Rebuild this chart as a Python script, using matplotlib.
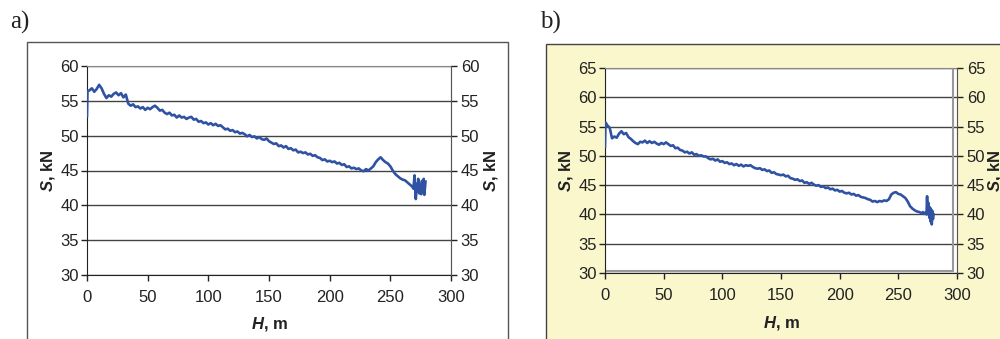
import numpy as np
import matplotlib
matplotlib.use("Agg")
import matplotlib.pyplot as plt
from matplotlib.patches import Rectangle

plt.rcParams['font.family'] = ['Liberation Sans', 'DejaVu Sans']
plt.rcParams['mathtext.fontset'] = 'custom'
plt.rcParams['mathtext.bfit'] = 'Liberation Sans:bold:italic'
plt.rcParams['mathtext.bf'] = 'Liberation Sans:bold'
plt.rcParams['mathtext.rm'] = 'Liberation Sans'

# ---- data ----
# panel a) : depth H [m] and rope force S [kN]
depth_a = [0, 0.4] + list(range(2, 268, 2)) + \
    [268, 269, 270, 270.5, 271, 272, 272.5, 273, 274, 275, 275.5, 276, 277, 277.5, 278, 279]
load_a = [52.8, 56.4,
          56.5, 56.8, 56.3, 56.7, 57.3, 56.8, 56.0, 55.4, 55.8, 55.6,
          56.0, 56.2, 55.8, 56.1, 55.5, 55.9, 54.6, 54.3, 54.5, 54.1,
          54.2, 53.9, 54.1, 53.7, 54.0, 53.8, 54.1, 54.3, 54.0, 53.6,
          53.7, 53.3, 53.1, 53.3, 52.9, 53.0, 52.6, 52.9, 52.6, 52.7,
          52.4, 52.6, 52.7, 52.3, 52.4, 52.0, 52.1, 51.8, 51.9, 51.6,
          51.8, 51.5, 51.7, 51.4, 51.5, 51.2, 50.9, 51.0, 50.7, 50.8,
          50.5, 50.6, 50.3, 50.4, 50.2, 49.9, 50.1, 49.8, 49.9, 49.6,
          49.8, 49.5, 49.4, 49.6, 49.2, 49.0, 48.8, 48.9, 48.5, 48.6,
          48.3, 48.5, 48.1, 48.2, 47.9, 48.0, 47.6, 47.7, 47.5, 47.6,
          47.3, 47.4, 47.1, 47.2, 46.9, 46.8, 46.5, 46.6, 46.3, 46.4,
          46.2, 46.3, 46.0, 46.1, 45.8, 45.9, 45.5, 45.6, 45.3, 45.4,
          45.2, 45.3, 45.0, 44.9, 45.2, 45.0, 45.3, 45.6, 46.2, 46.6,
          46.9, 46.5, 46.2, 46.0, 45.6, 45.0, 44.5, 44.2, 43.9, 43.7,
          43.6, 43.3, 43.0,
          42.7, 42.4, 44.3, 42.2, 40.9, 43.1, 42.0, 43.8, 41.7, 43.0,
          41.6, 43.5, 42.2, 43.8, 41.5, 43.4]

# panel b)
depth_b = [0, 0.4] + list(range(2, 270, 2)) + \
    [270, 271, 272, 273, 274, 274.5, 275, 275.5, 276, 276.5, 277, 277.5, 278, 278.5, 279, 279.5, 280]
load_b = [51.6, 55.7,
          55.2, 54.8, 53.0, 53.3, 53.1, 53.8, 54.2, 53.7, 53.9, 53.2,
          52.9, 52.5, 52.2, 52.0, 52.4, 52.3, 52.6, 52.2, 52.5, 52.2,
          52.4, 52.1, 51.9, 52.2, 52.0, 52.3, 52.0, 51.7, 51.8, 51.3,
          51.4, 51.0, 50.9, 50.6, 50.7, 50.4, 50.6, 50.2, 50.3, 50.0,
          50.1, 49.9, 49.9, 49.6, 49.4, 49.5, 49.2, 49.4, 49.0, 49.1,
          48.8, 48.9, 48.6, 48.7, 48.4, 48.6, 48.3, 48.5, 48.2, 48.4,
          48.3, 48.4, 48.1, 47.9, 47.8, 47.9, 47.6, 47.7, 47.4, 47.5,
          47.1, 47.2, 46.9, 46.8, 46.7, 46.8, 46.5, 46.6, 46.2, 46.1,
          45.9, 46.0, 45.7, 45.8, 45.4, 45.5, 45.2, 45.4, 45.1, 44.9,
          45.0, 44.7, 44.8, 44.5, 44.6, 44.3, 44.4, 44.1, 44.2, 43.9,
          44.0, 43.7, 43.6, 43.7, 43.4, 43.5, 43.2, 43.3, 43.0, 42.9,
          42.8, 42.6, 42.5, 42.2, 42.3, 42.1, 42.3, 42.2, 42.4, 42.3,
          42.6, 43.4, 43.7, 43.8, 43.5, 43.4, 43.1, 42.8, 42.2, 41.4,
          41.0, 40.7, 40.5, 40.4,
          40.2, 40.4, 40.1, 40.3, 40.0, 43.1, 40.1, 42.0, 40.3, 39.4,
          41.2, 38.8, 40.8, 38.3, 40.6, 39.2, 40.0]

x_ticks = [0, 50, 100, 150, 200, 250, 300]
y_ticks_a = [30, 35, 40, 45, 50, 55, 60]
y_ticks_b = [30, 35, 40, 45, 50, 55, 60, 65]

line_col = '#2f52a3'
W, H = 1000, 339


def fig_rect(x0, y0, x1, y1):
    # pixel box (top-left origin) -> figure fraction [left, bottom, w, h]
    return [x0 / W, 1 - y1 / H, (x1 - x0) / W, (y1 - y0) / H]


def draw_panel(fig, box, depth, load, yticks, label_x):
    ax = fig.add_axes(fig_rect(*box))
    ax.plot(depth, load, color=line_col, lw=1.9, zorder=3)
    ax.set_xlim(0, 300)
    ax.set_ylim(yticks[0], yticks[-1])
    ax.set_xticks(x_ticks)
    ax.set_yticks(yticks)
    ax.yaxis.grid(True, color='#444444', lw=1.0)
    ax.set_axisbelow(True)
    ax.tick_params(direction='out', length=4, width=1, labelsize=12,
                   colors='#222222', pad=2)
    ax.tick_params(axis='x', pad=7)
    for s in ['top', 'right']:
        ax.spines[s].set_color('#888888')
    ax.spines['left'].set_color('#222222')
    ax.spines['bottom'].set_color('#222222')

    ax2 = ax.twinx()
    ax2.set_ylim(yticks[0], yticks[-1])
    ax2.set_yticks(yticks)
    ax2.tick_params(direction='out', length=4, width=1, labelsize=12,
                    colors='#222222', pad=3)
    for s in ax2.spines.values():
        s.set_visible(False)
    ax2.spines['right'].set_visible(True)
    ax2.spines['right'].set_color('#555555')

    ax.set_xlabel(r'$\mathbfit{H}$' + ', m', fontsize=12, fontweight='bold',
                  color='#222222')
    ax.set_ylabel(r'$\mathbfit{S}$' + ', kN', fontsize=12, fontweight='bold',
                  color='#222222')
    ax2.set_ylabel(r'$\mathbfit{S}$' + ', kN', fontsize=12, fontweight='bold',
                   color='#222222', rotation=90)
    ax.xaxis.set_label_coords(0.5, label_x[2])
    ax.yaxis.set_label_coords(label_x[0], 0.5)
    ax2.yaxis.set_label_coords(label_x[1], 0.5)
    return ax


fig = plt.figure(figsize=(10, 3.39), dpi=100)

# outer chart frames, kept behind the axes
fig.patches.append(Rectangle((27 / W, -0.1), (508 - 27) / W, 1.1 - 42 / H,
                             transform=fig.transFigure, facecolor='white',
                             edgecolor='#555555', lw=1.0, zorder=-10))
fig.patches.append(Rectangle((546 / W, -0.1), 0.6, 1.1 - 44 / H,
                             transform=fig.transFigure, facecolor='#faf7cd',
                             edgecolor='#444444', lw=1.0, zorder=-10))

ax_a = draw_panel(fig, (87, 66, 451, 275), depth_a, load_a, y_ticks_a,
                  (-0.082, 1.085, -0.19))
ax_b = draw_panel(fig, (605, 68, 957, 273), depth_b, load_b, y_ticks_b,
                  (-0.085, 1.082, -0.20))
ax_b.set_facecolor('white')
ax_b.add_patch(Rectangle((0.0, 0.01), 0.99, 0.99, transform=ax_b.transAxes,
                         fill=False, edgecolor='#999999', lw=1.5, zorder=2))

fig.text(10 / W, 1 - 22 / H, 'a)', family='Liberation Serif', fontsize=18,
         va='center', ha='left', color='#222222')
fig.text(540 / W, 1 - 22 / H, 'b)', family='Liberation Serif', fontsize=18,
         va='center', ha='left', color='#222222')

fig.savefig('out.png', dpi=100)
